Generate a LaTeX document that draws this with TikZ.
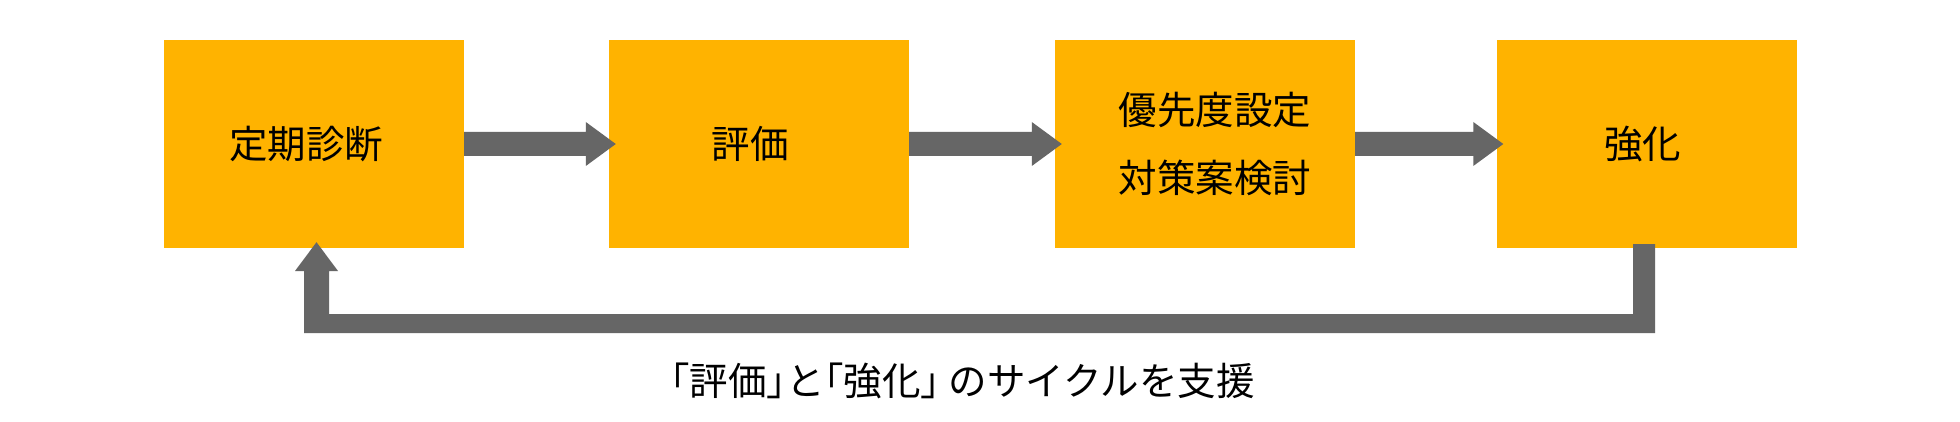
\documentclass[tikz,border=0pt]{standalone}
\usepackage{fontspec}
\setmainfont{Noto Sans CJK JP}
\usetikzlibrary{calc}
\definecolor{boxorange}{HTML}{FFB300}
\definecolor{flowgray}{HTML}{666666}
\tikzset{
  stepbox/.style={fill=boxorange, draw=none, minimum width=300pt, minimum height=208pt,
    inner sep=0pt, font=\fontsize{38.5}{68}\selectfont, text=black, align=center},
  flow/.style={fill=flowgray, draw=none},
  notetext/.style={font=\fontsize{38.5}{46}\selectfont, inner sep=0pt, text=black}
}
\newcommand{\blockarrow}[2]{%
  \fill[flow] ($(#1.east)+(0,-12)$) -- ($(#2.west)+(-23,-12)$) -- ($(#2.west)+(-23,-22)$)
    -- ($(#2.west)+(7,0)$) -- ($(#2.west)+(-23,22)$) -- ($(#2.west)+(-23,12)$)
    -- ($(#1.east)+(0,12)$) -- cycle;}
\begin{document}
\begin{tikzpicture}[x=1pt,y=-1pt]
\useasboundingbox (0,0) rectangle (1960,422);
\fill[white] (0,0) rectangle (1960,422);
\node[stepbox] (b1) at (314,144) {定期診断\hspace{16pt}};
\node[stepbox] (b2) at (759,144) {評価\hspace{18pt}};
\node[stepbox] (b3) at (1205,144) {\hspace*{20pt}優先度設定\\\hspace*{20pt}対策案検討};
\node[stepbox] (b4) at (1646.5,144) {強化\hspace{8pt}};
\blockarrow{b1}{b2}
\blockarrow{b2}{b3}
\blockarrow{b3}{b4}
% return arrow from b4 back to b1
\coordinate (rt) at ($(b4.south)+(-2.5,-4)$);
\coordinate (lt) at ($(b1.south)+(2.5,-6)$);
\coordinate (r1) at ($(rt)+(-11,0)$);
\coordinate (r2) at ($(rt)+(11,0)$);
\coordinate (l1) at ($(lt)+(-12.5,0)$);
\coordinate (l2) at ($(lt)+(12.5,0)$);
\coordinate (l3) at ($(lt)+(-21.5,0)$);
\coordinate (l4) at ($(lt)+(21.5,0)$);
\coordinate (base) at (0,333);
\coordinate (band) at (0,314);
\coordinate (hb) at (0,271);
\fill[flow] (r1) -- (r2) -- (r2 |- base) -- (l1 |- base) -- (l1 |- hb) -- (l3 |- hb)
  -- (lt) -- (l4 |- hb) -- (l2 |- hb) -- (l2 |- band) -- (r1 |- band) -- cycle;
\node[notetext] (note) at (953,380.5) {「評価」\hspace{-.5em}と\hspace{-.5em}「強化」\hspace{-.5em} のサイクルを支援};
\end{tikzpicture}
\end{document}
